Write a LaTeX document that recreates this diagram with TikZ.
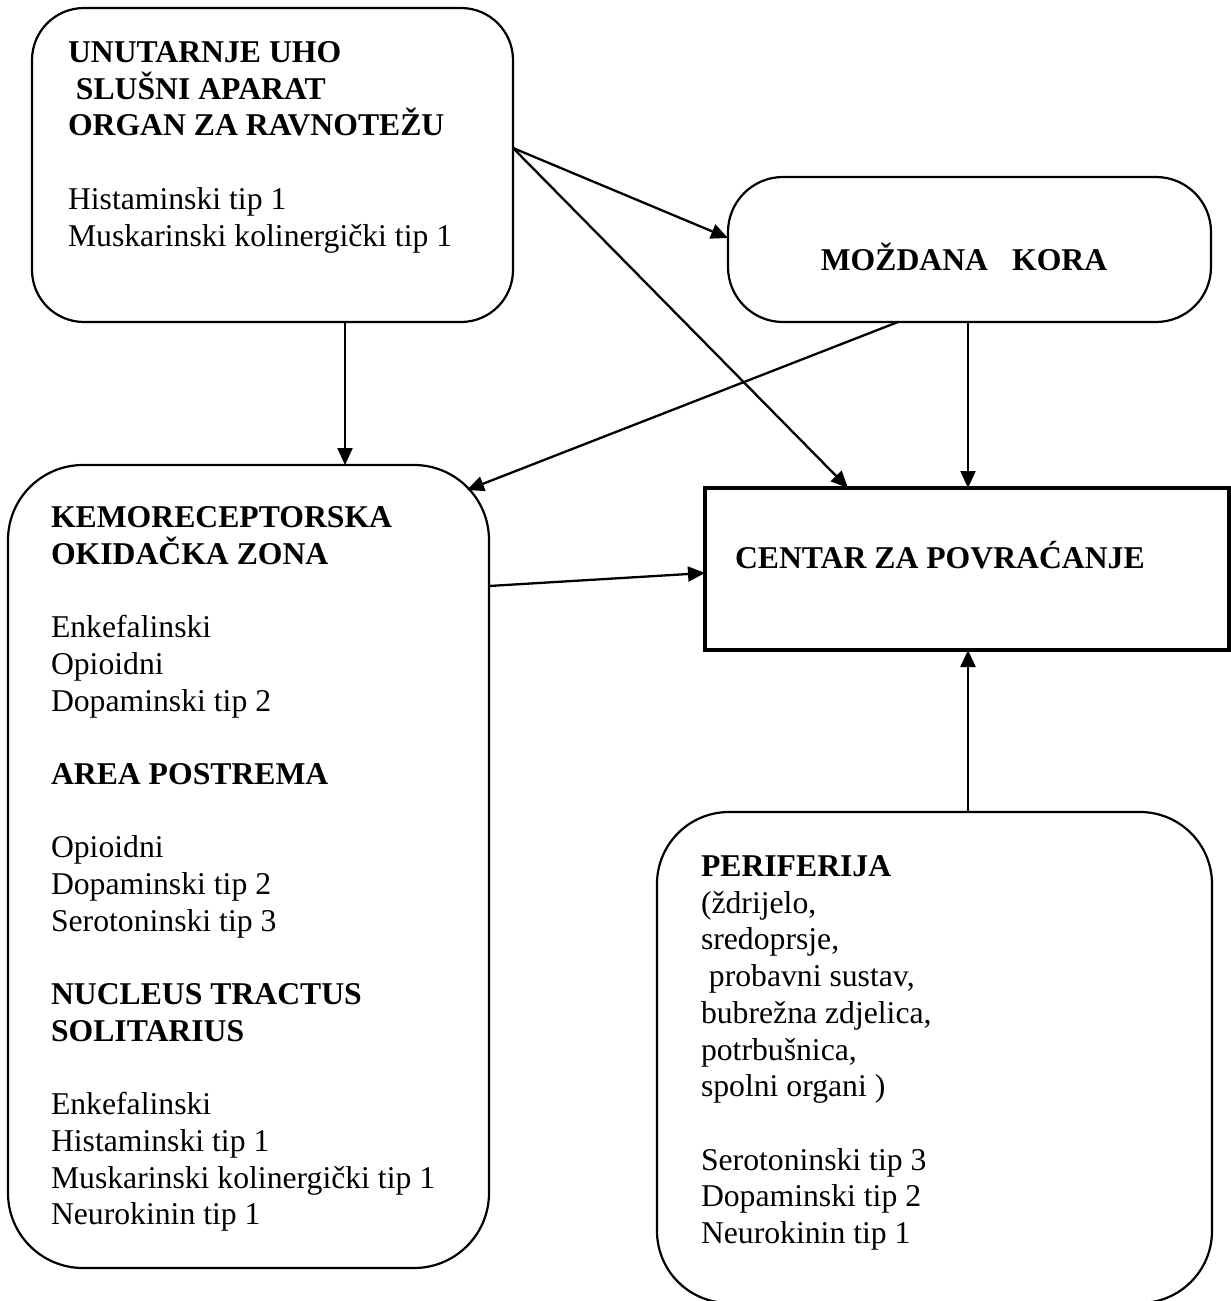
\documentclass[tikz,border=0pt]{standalone}
\usepackage{fontspec}
\setmainfont{Liberation Serif}
\usetikzlibrary{arrows.meta}
\newcommand\myln[1]{\hbox{#1}}
\newcommand\myblk[1]{\vtop{#1}}
\tikzset{
  rbox/.style={draw, line width=2.2pt, rounded corners=#1, inner sep=0pt, outer sep=0pt},
  sbox/.style={draw, line width=4pt, inner sep=0pt, outer sep=0pt},
  conn/.style={line width=2.3pt, -{Triangle[length=17pt,width=15pt]}},
  txt/.style={inner sep=0pt, outer sep=0pt, anchor=base west, font=\fontsize{31.7}{36.7}\selectfont},
}
\begin{document}
\begin{tikzpicture}[x=1pt,y=-1pt]
\useasboundingbox (0,0) rectangle (1231,1301);
\fill[white] (0,0) rectangle (1231,1301);

% boxes
\node[rbox=52pt, minimum width=481pt, minimum height=314pt] (A) at (272.5,165) {};
\node[rbox=55pt, minimum width=483pt, minimum height=145pt] (B) at (969.5,249.5) {};
\node[rbox=75pt, minimum width=481pt, minimum height=803pt] (C) at (248.5,866.5) {};
\node[sbox, minimum width=524pt, minimum height=162pt] (D) at (967,569) {};
\node[rbox=72pt, minimum width=555pt, minimum height=491pt] (E) at (934.5,1057.5) {};

% texts
\node[txt] (tA) at (68,62.5) {\myblk{%
  \myln{\textbf{UNUTARNJE UHO}}
  \myln{\textbf{\ SLUŠNI APARAT}}
  \myln{\textbf{ORGAN ZA RAVNOTEŽU}}
  \myln{}
  \myln{Histaminski tip 1}
  \myln{Muskarinski kolinergički tip 1}}};

\node[txt, anchor=base] (tB) at (964,270.5) {\textbf{MOŽDANA\hspace{24pt}KORA}};

\node[txt] (tC) at (51,527.5) {\myblk{%
  \myln{\textbf{KEMORECEPTORSKA}}
  \myln{\textbf{OKIDAČKA ZONA}}
  \myln{}
  \myln{Enkefalinski}
  \myln{Opioidni}
  \myln{Dopaminski tip 2}
  \myln{}
  \myln{\textbf{AREA POSTREMA}}
  \myln{}
  \myln{Opioidni}
  \myln{Dopaminski tip 2}
  \myln{Serotoninski tip 3}
  \myln{}
  \myln{\textbf{NUCLEUS TRACTUS}}
  \myln{\textbf{SOLITARIUS}}
  \myln{}
  \myln{Enkefalinski}
  \myln{Histaminski tip 1}
  \myln{Muskarinski kolinergički tip 1}
  \myln{Neurokinin tip 1}}};

\node[txt] (tD) at (735,568.5) {\textbf{CENTAR ZA POVRAĆANJE}};

\node[txt] (tE) at (701,876.5) {\myblk{%
  \myln{\textbf{PERIFERIJA}}
  \myln{(ždrijelo,}
  \myln{sredoprsje,}
  \myln{\ probavni sustav,}
  \myln{bubrežna zdjelica,}
  \myln{potrbušnica,}
  \myln{spolni organi )}
  \myln{}
  \myln{Serotoninski tip 3}
  \myln{Dopaminski tip 2}
  \myln{Neurokinin tip 1}}};

% connectors
\coordinate (As) at ([yshift=17pt]A.east);
\draw[conn] (As) -- ([yshift=11.5pt]B.west);
\draw[conn] (As) -- ([xshift=-119pt]D.north);
\draw[conn] ([xshift=72.5pt]A.south) -- ([xshift=72.5pt]A.south |- C.north);
\draw[conn] ([xshift=-71.5pt]B.south) -- ([xshift=-22pt,yshift=-25pt]C.north east);
\draw[conn] ([xshift=-1.5pt]B.south) -- ([xshift=-1.5pt]B.south |- D.north);
\draw[conn] ([yshift=280.5pt]C.east) -- ([yshift=-4pt]D.west);
\draw[conn] ([xshift=33.5pt]E.north) -- ([xshift=33.5pt]E.north |- D.south);
\end{tikzpicture}
\end{document}
